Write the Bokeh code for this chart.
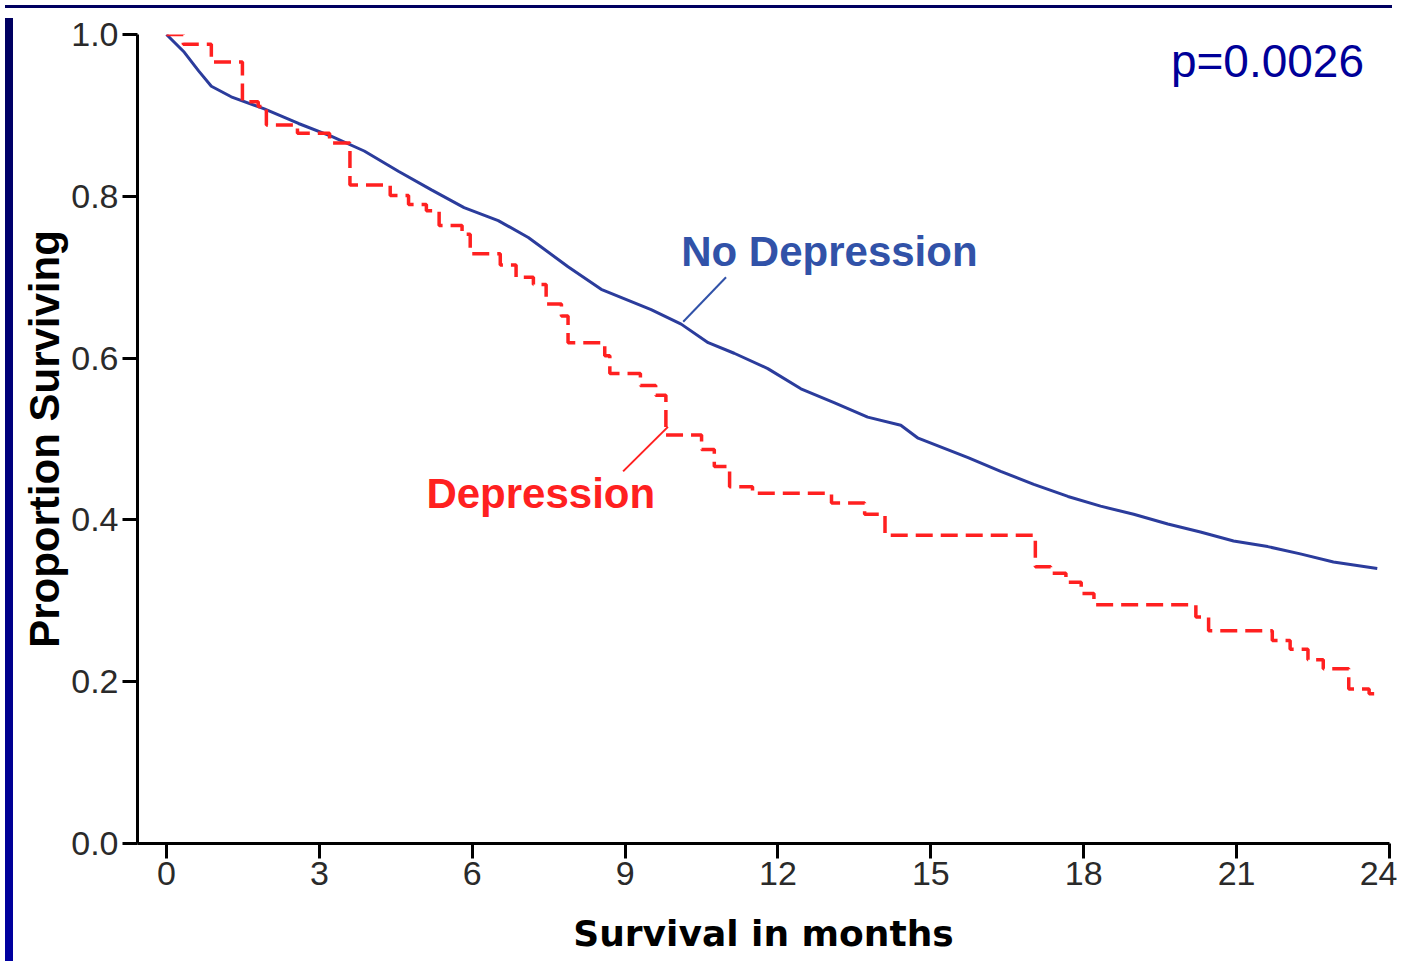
from bokeh.plotting import figure
from bokeh.models import FixedTicker, NumeralTickFormatter, Label, Div, Range1d
from bokeh.layouts import column, row
from bokeh.embed import file_html
from bokeh.resources import INLINE

# ---- data ----
month_ticks = [0, 3, 6, 9, 12, 15, 18, 21, 24]
surv_ticks = [0.0, 0.2, 0.4, 0.6, 0.8, 1.0]

no_dep_months = [0, 0.35, 0.63, 0.88, 1.27, 1.92, 2.59, 3.24, 3.88, 4.55, 5.20, 5.84,
                 6.51, 7.10, 7.88, 8.53, 9.51, 10.10, 10.63, 11.14, 11.80, 12.45,
                 13.10, 13.76, 14.41, 14.75, 15.73, 16.37, 17.02, 17.69, 18.33,
                 18.98, 19.65, 20.29, 20.94, 21.61, 22.25, 22.90, 23.76]
no_dep_surv = [1.0, 0.978, 0.955, 0.936, 0.923, 0.908, 0.890, 0.874, 0.856, 0.831,
               0.808, 0.786, 0.770, 0.749, 0.713, 0.685, 0.660, 0.642, 0.619, 0.606,
               0.587, 0.562, 0.545, 0.527, 0.517, 0.501, 0.477, 0.460, 0.444, 0.429,
               0.417, 0.407, 0.395, 0.385, 0.374, 0.367, 0.358, 0.348, 0.340]

dep_months = [0, 0.33, 0.88, 1.49, 1.80, 1.96, 2.57, 3.20, 3.60, 4.39, 4.75, 5.10,
              5.35, 5.80, 5.96, 6.55, 6.86, 7.20, 7.45, 7.75, 7.88, 8.60, 8.70, 9.30,
              9.60, 9.80, 10.50, 10.75, 11.05, 11.50, 13.05, 13.70, 14.10, 17.05,
              17.35, 17.65, 17.95, 18.20, 20.20, 20.45, 21.70, 22.05, 22.40, 22.70,
              23.20, 23.60, 23.80]
dep_surv = [1.0, 0.988, 0.966, 0.917, 0.911, 0.888, 0.878, 0.866, 0.814, 0.801, 0.790,
            0.782, 0.764, 0.753, 0.729, 0.715, 0.700, 0.691, 0.667, 0.652, 0.619,
            0.603, 0.581, 0.566, 0.554, 0.505, 0.487, 0.466, 0.441, 0.433, 0.421,
            0.407, 0.381, 0.342, 0.334, 0.323, 0.309, 0.295, 0.280, 0.263, 0.251,
            0.240, 0.227, 0.216, 0.191, 0.185, 0.185]

BLUE = "#2B3C9C"
LABEL_BLUE = "#3152A8"
RED = "#FF2020"

p = figure(width=1379, height=943,
           x_range=Range1d(-0.569, 24), y_range=Range1d(0, 1.0),
           output_backend="svg", toolbar_location=None,
           min_border_left=118, min_border_right=8,
           min_border_top=21, min_border_bottom=113)
p.outline_line_color = None
p.grid.visible = False
p.background_fill_color = "white"
p.border_fill_color = "white"

for ax in (p.xaxis[0], p.yaxis[0]):
    ax.axis_line_color = "black"
    ax.axis_line_width = 3
    ax.major_tick_line_color = "black"
    ax.major_tick_line_width = 3
    ax.major_tick_out = 15
    ax.major_tick_in = 0
    ax.minor_tick_line_color = None
    ax.major_label_text_font = "Liberation Sans"
    ax.major_label_text_font_size = "34px"
    ax.major_label_text_color = "#2a2a2a"

p.xaxis.ticker = FixedTicker(ticks=month_ticks)
p.yaxis.ticker = FixedTicker(ticks=surv_ticks)
p.yaxis.formatter = NumeralTickFormatter(format="0.0")
p.xaxis.major_label_standoff = 3
p.yaxis.major_label_standoff = 4

p.xaxis.axis_label = "Survival in months"
p.xaxis.axis_label_text_font = "DejaVu Sans"
p.xaxis.axis_label_text_font_style = "bold"
p.xaxis.axis_label_text_font_size = "36px"
p.xaxis.axis_label_text_color = "black"
p.xaxis.axis_label_standoff = 25

p.yaxis.axis_label = "Proportion Surviving"
p.yaxis.axis_label_text_font = "Liberation Sans"
p.yaxis.axis_label_text_font_style = "bold"
p.yaxis.axis_label_text_font_size = "42px"
p.yaxis.axis_label_text_color = "black"
p.yaxis.axis_label_standoff = 0

# curves
p.line(no_dep_months, no_dep_surv, line_color=BLUE, line_width=3)
p.step(dep_months, dep_surv, mode="after", line_color=RED, line_width=3.5,
       line_dash="17 8")

# leader lines
p.segment(x0=[10.98], y0=[0.700], x1=[10.14], y1=[0.645], line_color=LABEL_BLUE, line_width=2)
p.segment(x0=[8.96], y0=[0.460], x1=[9.84], y1=[0.515], line_color=RED, line_width=2)

# annotations
p.add_layout(Label(x=10.10, y=0.732, text="No Depression", text_font="Liberation Sans",
                   text_font_style="bold", text_font_size="42px", text_color=LABEL_BLUE,
                   text_baseline="alphabetic"))
p.add_layout(Label(x=5.10, y=0.433, text="Depression", text_font="Liberation Sans",
                   text_font_style="bold", text_font_size="42px", text_color=RED,
                   text_baseline="alphabetic"))
p.add_layout(Label(x=19.71, y=0.967, text="p=0.0026", text_font="Liberation Sans",
                   text_font_size="46px", text_color="#000099",
                   text_baseline="alphabetic"))

top_bar = Div(text="", width=1387, height=3, styles={"background-color": "#000060"})
left_bar = Div(text="", width=8, height=943,
               styles={"background": "linear-gradient(to bottom, #000060, #0000a0)"})

layout = column(top_bar, row(left_bar, p, spacing=0), spacing=0)

open("out.html", "w").write(file_html(layout, INLINE))
